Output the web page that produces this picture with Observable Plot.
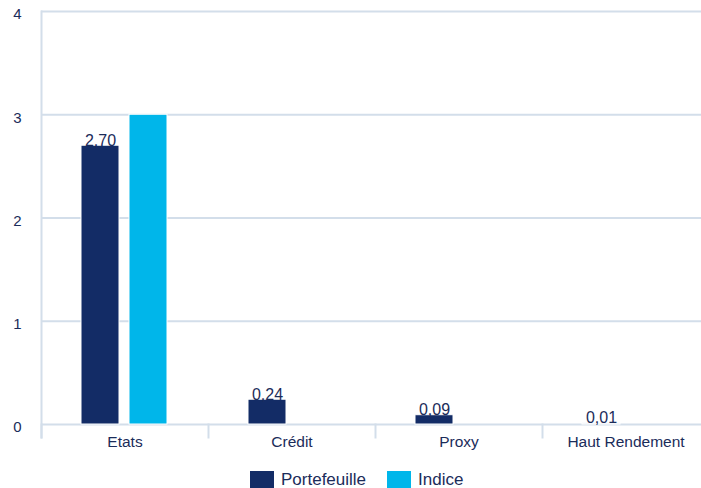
<!DOCTYPE html>
<html><head><meta charset="utf-8">
<script src="https://cdn.jsdelivr.net/npm/d3@7"></script>
<script src="https://cdn.jsdelivr.net/npm/@observablehq/plot@0.6"></script>
<style>
html,body{margin:0;padding:0;background:#fff;overflow:hidden;font-family:"Liberation Sans",Arial,Helvetica,sans-serif;}
#chart svg{display:block;overflow:hidden;}
#legend{display:flex;align-items:center;padding-left:250px;padding-top:5px;height:17px;color:#1b2c5a;font-size:17px;line-height:17px;}
#legend .item{display:flex;align-items:center;margin-right:21px;}
#legend .sw{width:24px;height:17px;margin-right:7px;}
</style></head><body>
<div id="chart"></div>
<div id="legend"></div>
<script>
const categories = ["Etats", "Crédit", "Proxy", "Haut Rendement"];
const series = ["Portefeuille", "Indice"];
const portefeuille = [2.70, 0.24, 0.09, 0.01];
const indice = [3.00, null, null, null];
const yTicks = [0, 1, 2, 3, 4];
const colors = ["#132c66", "#00b6ea"];
const gridColor = "#d3deea";
const textColor = "#1b2c5a";

const data = [];
categories.forEach((c, i) => {
  data.push({cat: c, series: "Portefeuille", value: portefeuille[i]});
  if (indice[i] != null) data.push({cat: c, series: "Indice", value: indice[i]});
});

const fmt = v => v.toFixed(2).replace(".", ",");

const plot = Plot.plot({
  width: 701,
  height: 466,
  marginLeft: 40,
  marginRight: -9,
  marginTop: 11,
  marginBottom: 42,
  style: {fontFamily: "Liberation Sans, Arial, sans-serif", fontSize: "15px", color: textColor, background: "#fff"},
  fx: {domain: categories, padding: 0, label: null},
  x: {domain: series, paddingInner: 0.2, paddingOuter: 0.82, axis: null},
  y: {domain: [0, 4], ticks: yTicks, label: null},
  color: {domain: series, range: colors},
  marks: [
    Plot.gridY(yTicks, {stroke: gridColor, strokeOpacity: 1, strokeWidth: 2}),
    Plot.frame({anchor: "left", facetAnchor: "left", stroke: gridColor, strokeOpacity: 1, strokeWidth: 2, insetBottom: -13}),
    Plot.frame({anchor: "left", stroke: gridColor, strokeOpacity: 1, strokeWidth: 2, insetTop: 413, insetBottom: -13}),
    Plot.axisY(yTicks, {tickSize: 0, tickPadding: 20, fontSize: 15, dy: 3, fill: textColor, tickFormat: d => String(d)}),
    Plot.axisFx({anchor: "bottom", tickSize: 0, tickPadding: 11, fontSize: 15.5, fill: textColor, label: null}),
    Plot.barY(data, {fx: "cat", x: "series", y: "value", fill: "series", stroke: "white", strokeWidth: 1}),
    Plot.text(data.filter(d => d.series === "Portefeuille"), {
      fx: "cat", x: "series", y: "value", text: d => fmt(d.value),
      lineAnchor: "bottom", fontSize: 16, fill: textColor
    })
  ]
});
document.getElementById("chart").appendChild(plot);

const legend = document.getElementById("legend");
series.forEach((s, i) => {
  const item = document.createElement("div");
  item.className = "item";
  const sw = document.createElement("span");
  sw.className = "sw";
  sw.style.background = colors[i];
  const t = document.createElement("span");
  t.textContent = s;
  item.appendChild(sw);
  item.appendChild(t);
  legend.appendChild(item);
});
</script>
</body></html>
